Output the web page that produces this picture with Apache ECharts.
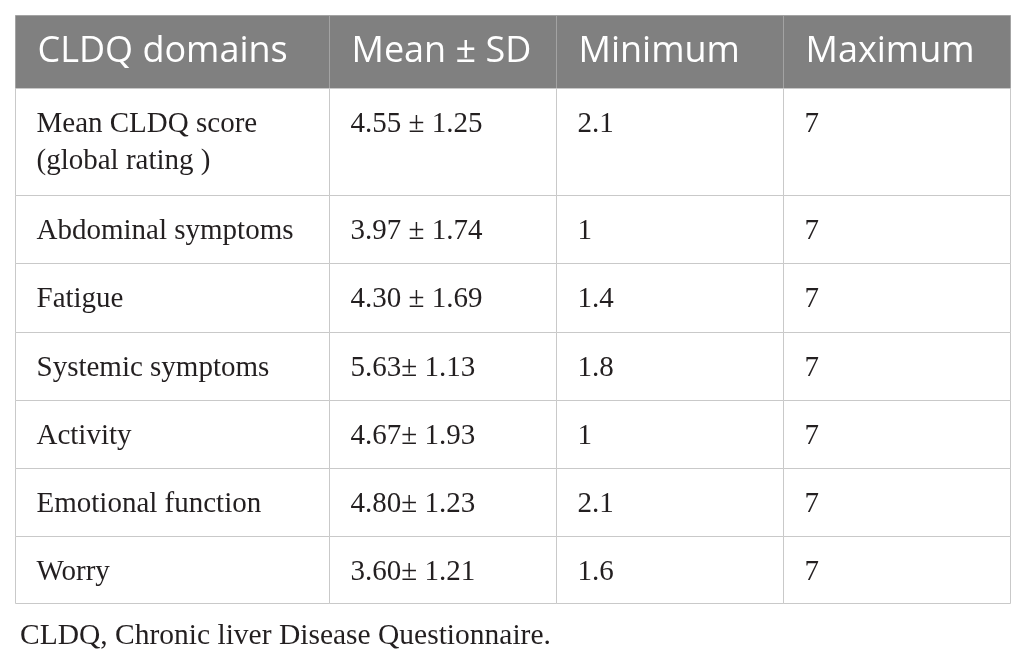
<!DOCTYPE html>
<html><head><meta charset="utf-8">
<script src="https://cdn.jsdelivr.net/npm/echarts@6/dist/echarts.min.js"></script>
<style>html,body{margin:0;padding:0;background:#fff}#c{width:1026px;height:659px}</style>
</head><body><div id="c"></div>
<script>
// ---- data ----
const headers = ['CLDQ domains', 'Mean \u00b1 SD', 'Minimum', 'Maximum'];
const domains = ['Mean CLDQ score\n(global rating )', 'Abdominal symptoms', 'Fatigue', 'Systemic symptoms', 'Activity', 'Emotional function', 'Worry'];
const meanSD = ['4.55 \u00b1 1.25', '3.97 \u00b1 1.74', '4.30 \u00b1 1.69', '5.63\u00b1 1.13', '4.67\u00b1 1.93', '4.80\u00b1 1.23', '3.60\u00b1 1.21'];
const minimum = ['2.1', '1', '1.4', '1.8', '1', '2.1', '1.6'];
const maximum = ['7', '7', '7', '7', '7', '7', '7'];
const footnote = 'CLDQ, Chronic liver Disease Questionnaire.';

// ---- layout (table geometry in axis units) ----
const colEdges = [0, 314, 541, 768, 995];
const rowEdges = [0, 73, 180, 248, 317, 385, 453, 521, 588];

const columns = [domains, meanSD, minimum, maximum];
const cells = [];
headers.forEach((h, c) => cells.push([c, 0, h]));
domains.forEach((d, r) => {
  columns.forEach((col, c) => cells.push([c, r + 1, col[r]]));
});

function renderItem(params, api) {
  const c = api.value(0), r = api.value(1);
  const text = cells[params.dataIndex][2];
  const p0 = api.coord([colEdges[c], rowEdges[r]]);
  const p1 = api.coord([colEdges[c + 1], rowEdges[r + 1]]);
  const x = Math.round(p0[0]) + 0.5, y = Math.round(p0[1]) + 0.5;
  const w = Math.round(p1[0]) - Math.round(p0[0]);
  const h = Math.round(p1[1]) - Math.round(p0[1]);
  const isHeader = r === 0;
  const children = [{
    type: 'rect',
    shape: { x: x, y: y, width: w, height: h },
    style: { fill: isHeader ? '#808080' : '#ffffff', stroke: isHeader ? '#a3a3a3' : '#c9c9c9', lineWidth: 1 }
  }];
  if (isHeader) {
    children.push({
      type: 'text',
      style: {
        text: text, x: x + 22, y: y + h / 2,
        fill: '#ffffff', font: '36px "Open Sans"',
        align: 'left', verticalAlign: 'middle'
      }
    });
  } else {
    children.push({
      type: 'text',
      style: {
        text: text, x: x + 21, y: y + 17,
        fill: '#231f20', font: '29px "Liberation Serif"', lineHeight: 37,
        align: 'left', verticalAlign: 'top'
      }
    });
  }
  return { type: 'group', children: children };
}

const chart = echarts.init(document.getElementById('c'));
chart.setOption({
  animation: false,
  title: {
    text: footnote, left: 15, top: 616,
    textStyle: { fontFamily: 'Liberation Serif', fontSize: 29.5, fontWeight: 'normal', color: '#231f20' }
  },
  grid: { left: 15, top: 15, width: 995, height: 588 },
  xAxis: { type: 'value', min: 0, max: 995, show: false },
  yAxis: { type: 'value', min: 0, max: 588, inverse: true, show: false },
  series: [{
    type: 'custom',
    renderItem: renderItem,
    data: cells.map(d => [d[0], d[1]]),
    encode: { x: 0, y: 1 }
  }]
});
</script></body></html>
